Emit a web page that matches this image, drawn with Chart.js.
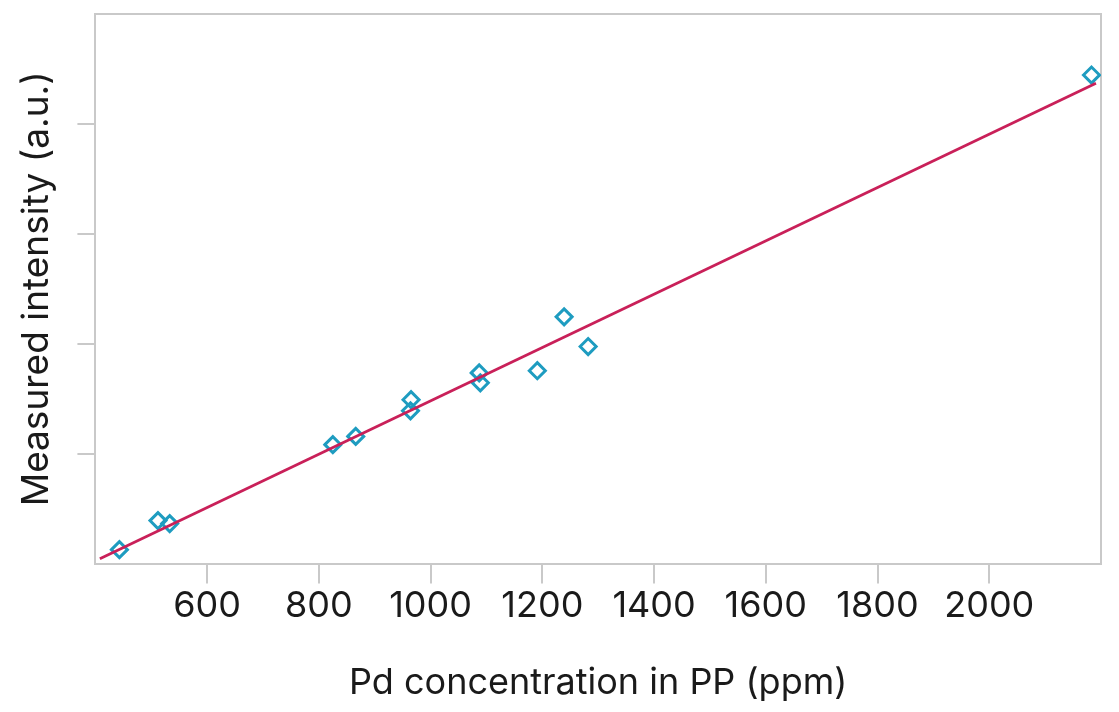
<!DOCTYPE html>
<html>
<head>
  <title>Pd calibration</title>
  <script src="https://cdn.jsdelivr.net/npm/chart.js"></script>
  <style>
    html, body { margin: 0; padding: 0; background: #fff; }
    #chart-container { width: 1119px; height: 712px; }
  </style>
</head>
<body>
  <div id="chart-container">
    <canvas id="chart"></canvas>
  </div>
  <script>
    const pdPpm = [443, 512, 533, 825, 866, 965, 964, 1087, 1089, 1191, 1239, 1282, 2183];
    const intensity = [0.127, 0.391, 0.364, 1.082, 1.157, 1.491, 1.39, 1.735, 1.645, 1.755, 2.245, 1.975, 4.445];

    // fitted line end points
    const fitX = [408, 2191];
    const fitY = [0.045, 4.37];

    const xTicks = [600, 800, 1000, 1200, 1400, 1600, 1800, 2000];
    const yTicks = [1, 2, 3, 4];

    const FRAME = '#c9c9c9';
    const TEXT = '#1a1a1a';
    const FONT = 'Inter, "DejaVu Sans", sans-serif';

    const points = pdPpm.map((x, i) => ({ x: x, y: intensity[i] }));
    const fit = fitX.map((x, i) => ({ x: x, y: fitY[i] }));

    const data = {
      datasets: [{
        type: 'line',
        label: 'Fit',
        data: fit,
        borderColor: '#c92059',
        borderWidth: 2.8,
        pointRadius: 0,
        fill: false
      }, {
        type: 'scatter',
        label: 'Samples',
        data: points,
        pointStyle: 'rectRot',
        pointRadius: 8,
        borderWidth: 3,
        borderColor: '#1e9cc0',
        backgroundColor: 'rgba(255,255,255,0)'
      }]
    };

    const config = {
      type: 'scatter',
      data: data,
      options: {
        responsive: true,
        maintainAspectRatio: false,
        animation: false,
        layout: { padding: { top: 14, right: 18, bottom: 7, left: 0 } },
        plugins: { legend: { display: false }, tooltip: { enabled: false } },
        scales: {
          x: {
            type: 'linear',
            min: 400,
            max: 2200,
            afterBuildTicks: (scale) => { scale.ticks = xTicks.map(v => ({ value: v })); },
            grid: { drawOnChartArea: false, color: FRAME, lineWidth: 2, tickLength: 20 },
            border: { color: FRAME, width: 2 },
            ticks: {
              color: TEXT,
              padding: 1,
              font: { family: FONT, size: 36 },
              callback: (v) => String(v)
            },
            title: {
              display: true,
              text: 'Pd concentration in PP (ppm)',
              color: TEXT,
              font: { family: FONT, size: 36 },
              padding: { top: 33, bottom: 0 }
            }
          },
          y: {
            type: 'linear',
            min: 0,
            max: 5,
            afterBuildTicks: (scale) => { scale.ticks = yTicks.map(v => ({ value: v })); },
            grid: { drawOnChartArea: false, color: FRAME, lineWidth: 2, tickLength: 18 },
            border: { color: FRAME, width: 2 },
            ticks: { display: false },
            title: {
              display: true,
              text: 'Measured intensity (a.u.)',
              color: TEXT,
              font: { family: FONT, size: 37 },
              padding: { top: 15, bottom: 18 }
            }
          },
          x2: {
            type: 'linear',
            position: 'top',
            min: 400,
            max: 2200,
            grid: { display: false, drawTicks: false },
            border: { display: true, color: FRAME, width: 2 },
            ticks: { display: false }
          },
          y2: {
            type: 'linear',
            position: 'right',
            min: 0,
            max: 5,
            grid: { display: false, drawTicks: false },
            border: { display: true, color: FRAME, width: 2 },
            ticks: { display: false }
          }
        }
      }
    };

    const chart = new Chart(document.getElementById('chart'), config);
  </script>
</body>
</html>
